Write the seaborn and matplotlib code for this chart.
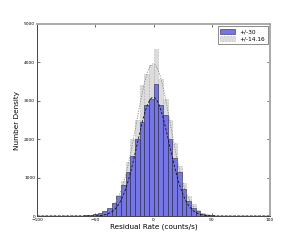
import numpy as np
import pandas as pd
import matplotlib
matplotlib.use("Agg")
import matplotlib.pyplot as plt
import seaborn as sns

# bin edges -100..100 step 4 (50 bins)
bin_edges = list(range(-100, 101, 4))
bin_left = bin_edges[:-1]

# counts per bin, keyed by left edge
blue_counts = {
    -72: 4, -68: 6, -64: 10, -60: 15, -56: 25, -52: 45, -48: 85, -44: 140,
    -40: 220, -36: 350, -32: 530, -28: 800, -24: 1150, -20: 1550, -16: 2000,
    -12: 2450, -8: 2900, -4: 3040, 0: 3430, 4: 2880, 8: 2620, 12: 2000,
    16: 1500, 20: 1150, 24: 700, 28: 400, 32: 220, 36: 120, 40: 60, 44: 35,
    48: 20, 52: 12, 56: 8, 60: 5, 64: 3,
}
gray_counts = {
    -68: 3, -64: 6, -60: 10, -56: 18, -52: 30, -48: 55, -44: 100, -40: 180,
    -36: 330, -32: 550, -28: 900, -24: 1400, -20: 2000, -16: 2500,
    -12: 3400, -8: 3700, -4: 3930, 0: 4350, 4: 3580, 8: 3050, 12: 2500,
    16: 1900, 20: 1300, 24: 850, 28: 530, 32: 320, 36: 160, 40: 80, 44: 40,
    48: 22, 52: 12, 56: 7, 60: 4, 64: 2,
}

# fitted gaussian parameters (amplitude, centre, width)
blue_fit = (3090, -0.3, 13.8)
gray_fit = (3960, -0.3, 14.6)

blue_label = "+/-30"
gray_label = "+/-14.16"
x_ticks = [-100, -50, 0, 50, 100]
y_ticks = [0, 1000, 2000, 3000, 4000, 5000]

centers = [l + 2 for l in bin_left]
df = pd.DataFrame({
    "x": centers,
    "blue": [blue_counts.get(l, 0) for l in bin_left],
    "gray": [gray_counts.get(l, 0) for l in bin_left],
})

fig = plt.figure(figsize=(3.0, 2.4), dpi=100)
ax = fig.add_axes([0.124, 0.1, 0.776, 0.8])

sns.histplot(data=df, x="x", weights="gray", bins=bin_edges, ax=ax,
             color="#dcdcdc", alpha=1.0, edgecolor="#888888", linewidth=0.4,
             linestyle=":", label=gray_label, zorder=1)
sns.histplot(data=df, x="x", weights="blue", bins=bin_edges, ax=ax,
             color="#7575e6", alpha=1.0, edgecolor="#222244", linewidth=0.4,
             label=blue_label, zorder=2)

xs = np.linspace(-100, 100, 401)
def gauss(p):
    a, m, s = p
    return a * np.exp(-(xs - m) ** 2 / (2 * s * s))

sns.lineplot(x=xs, y=gauss(gray_fit), ax=ax, color="#888888", lw=0.6,
             linestyle=(0, (1.5, 1.5)), zorder=3)
sns.lineplot(x=xs, y=gauss(blue_fit), ax=ax, color="#111111", lw=0.6,
             linestyle=(0, (3, 2)), zorder=4)

ax.set_xlim(-100, 100)
ax.set_ylim(0, 5000)
ax.set_xticks(x_ticks)
ax.set_yticks(y_ticks)
ax.set_xticklabels([f"{t}".replace("-", "\u2212") for t in x_ticks])
ax.set_yticklabels([str(t) for t in y_ticks])
ax.tick_params(direction="in", labelsize=3.2, length=2, width=0.4,
               top=True, right=True, pad=1.5)
ax.set_xlabel("Residual Rate (counts/s)", fontsize=5.2, labelpad=1)
ax.set_ylabel("Number Density", fontsize=5.2, labelpad=3)

for side in ["left", "bottom"]:
    ax.spines[side].set_color("#444444")
    ax.spines[side].set_linewidth(0.7)
for side in ["top", "right"]:
    ax.spines[side].set_color("#aaaaaa")
    ax.spines[side].set_linewidth(1.4)

handles, labels = ax.get_legend_handles_labels()
order = [labels.index(blue_label), labels.index(gray_label)]
leg = ax.legend([handles[i] for i in order], [labels[i] for i in order],
                loc="upper right", fontsize=4.2, frameon=True, fancybox=False,
                borderpad=0.4, handlelength=2.6, handleheight=0.9,
                labelspacing=0.3, borderaxespad=0.4)
leg.get_frame().set_edgecolor("#333333")
leg.get_frame().set_linewidth(0.5)

fig.savefig("out.png", dpi=100)
